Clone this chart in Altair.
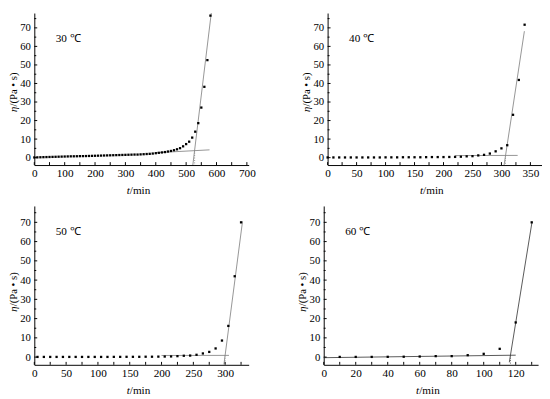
import altair as alt
import pandas as pd

FONT = "Liberation Serif, Times New Roman, Times, serif"
W = 220
H_TOP = 156
H_BOT = 163

# ---- 30 ℃ ----
t30 = [0, 10, 20, 30, 40, 50, 60, 70, 80, 90, 100, 110, 120, 130, 140, 150, 160, 170, 180, 190,
       200, 210, 220, 230, 240, 250, 260, 270, 280, 290, 300, 310, 320, 330, 340, 350, 360, 370, 380, 390,
       400, 410, 420, 430, 440, 450, 460, 470, 480, 490, 500, 510, 520, 530, 540, 550, 560, 570, 580]
v30 = [0.1, 0.15, 0.2, 0.25, 0.3, 0.35, 0.4, 0.45, 0.5, 0.55, 0.6, 0.65, 0.7, 0.72, 0.75, 0.8, 0.82, 0.85, 0.9, 0.95,
       1.0, 1.05, 1.1, 1.15, 1.2, 1.25, 1.3, 1.35, 1.4, 1.45, 1.5, 1.55, 1.6, 1.65, 1.65, 1.75, 1.85, 1.95, 2.05, 2.2,
       2.4, 2.6, 2.8, 3.0, 3.3, 3.6, 4.0, 4.5, 5.1, 6.1, 7.3, 8.6, 10.8, 14.0, 18.6, 27.0, 38.2, 52.6, 76.6]
steep30_t = [522, 583.5]
steep30_v = [-4, 79]
flat30_t = [400, 577]
flat30_v = [2.65, 4.2]
drop30_t = [528]
drop30_v = [4.0]

# ---- 40 ℃ ----
t40 = [0, 10, 20, 30, 40, 50, 60, 70, 80, 90, 100, 110, 120, 130, 140, 150, 160, 170, 180, 190,
       200, 210, 220, 230, 240, 250, 260, 270, 280, 290, 300, 310, 320, 330, 340]
v40 = [0.1, 0.1, 0.1, 0.1, 0.1, 0.1, 0.1, 0.1, 0.1, 0.1, 0.15, 0.15, 0.15, 0.2, 0.2, 0.2, 0.2, 0.25, 0.3, 0.3,
       0.3, 0.35, 0.4, 0.5, 0.7, 0.8, 1.2, 1.5, 2.2, 3.4, 5.0, 6.7, 23.1, 41.9, 71.7]
steep40_t = [304.6, 339.6]
steep40_v = [-4, 68.2]
flat40_t = [220, 328]
flat40_v = [1.1, 1.2]
drop40_t = [307]
drop40_v = [1.2]

# ---- 50 ℃ ----
t50 = [5, 15, 25, 35, 45, 55, 65, 75, 85, 95, 105, 115, 125, 135, 145, 155, 165, 175, 185, 195,
       205, 215, 225, 235, 245, 255, 265, 275, 285, 295, 305, 315, 325]
v50 = [0.1, 0.1, 0.1, 0.1, 0.1, 0.1, 0.1, 0.1, 0.1, 0.1, 0.1, 0.1, 0.12, 0.12, 0.15, 0.15, 0.15, 0.2, 0.2, 0.25,
       0.3, 0.35, 0.5, 0.7, 0.8, 1.2, 1.9, 2.7, 4.5, 8.6, 16.2, 42.0, 70.0]
steep50_t = [298, 327.3]
steep50_v = [-4, 70.5]
flat50_t = [200, 306]
flat50_v = [0.85, 0.9]
drop50_t = [299.8]
drop50_v = [0.9]

# ---- 60 ℃ ----
t60 = [10, 20, 30, 40, 50, 60, 70, 80, 90, 100, 110, 120, 130]
v60 = [0.1, 0.1, 0.1, 0.15, 0.2, 0.3, 0.5, 0.5, 1.0, 1.7, 4.3, 18.0, 70.0]
steep60_t = [116, 130.2]
steep60_v = [-2.7, 70.2]
flat60_t = [0, 120]
flat60_v = [-0.3, 1.0]
drop60_t = [116.7]
drop60_v = [0.95]

# ---- axes ----
y_labels = [0, 10, 20, 30, 40, 50, 60, 70]
y_minor = [5, 15, 25, 35, 45, 55, 65, 75]
x30_labels = [0, 100, 200, 300, 400, 500, 600, 700]
x30_minor = [50, 150, 250, 350, 450, 550, 650]
x40_labels = [0, 50, 100, 150, 200, 250, 300, 350]
x40_minor = [25, 75, 125, 175, 225, 275, 325]
x50_labels = [0, 50, 100, 150, 200, 250, 300]
x50_minor = [25, 75, 125, 175, 225, 275, 325]
x60_labels = [0, 20, 40, 60, 80, 100, 120]
x60_minor = [10, 30, 50, 70, 90, 110, 130]

one = pd.DataFrame({"a": [1]})


def text_layer(text, x, y, size=11.5, **kw):
    return alt.Chart(one).mark_text(text=text, font=FONT, fontSize=size, color="black", **kw).encode(
        x=alt.value(x), y=alt.value(y))


def panel(t, v, st, sv, ft, fv, dt, dv, xdom, xlab, xminor, ydom, H, label, lc):
    xenc = alt.X("t:Q", scale=alt.Scale(domain=xdom, nice=False, zero=False),
                 axis=alt.Axis(values=xlab, ticks=False, grid=False, title="", labelFont=FONT,
                               labelFontSize=11.5, labelColor="black", domainColor="black",
                               domainWidth=1, labelPadding=3, labelFlush=False, labelOverlap=False))
    yenc = alt.Y("v:Q", scale=alt.Scale(domain=ydom, nice=False, zero=False),
                 axis=alt.Axis(values=y_labels, ticks=False, grid=False, title="", labelFont=FONT,
                               labelFontSize=11, labelColor="black", domainColor="black",
                               domainWidth=1, labelPadding=4, labelFlush=False, labelOverlap=False))
    pts = alt.Chart(pd.DataFrame({"t": t, "v": v})).mark_square(size=5.5, color="black", opacity=1).encode(x=xenc, y=yenc)
    steep = alt.Chart(pd.DataFrame({"t": st, "v": sv})).mark_line(color=lc, strokeWidth=0.9, clip=True).encode(x=xenc, y=yenc)
    flat = alt.Chart(pd.DataFrame({"t": ft, "v": fv})).mark_line(color=lc, strokeWidth=0.9).encode(x=xenc, y=yenc)
    drop = alt.Chart(pd.DataFrame({"t": dt, "v": dv, "v2": [ydom[0]]})).mark_rule(
        color=lc, strokeWidth=0.9, strokeDash=[1, 1.5]).encode(x=xenc, y=yenc, y2="v2:Q")
    xt_major = alt.Chart(pd.DataFrame({"t": xlab})).mark_rule(color="black", strokeWidth=1).encode(
        x=xenc, y=alt.value(H), y2=alt.value(H - 3))
    xt_minor = alt.Chart(pd.DataFrame({"t": xminor})).mark_rule(color="black", strokeWidth=1).encode(
        x=xenc, y=alt.value(H), y2=alt.value(H - 3))
    yt_major = alt.Chart(pd.DataFrame({"v": y_labels})).mark_rule(color="black", strokeWidth=1).encode(
        y=yenc, x=alt.value(0), x2=alt.value(3))
    yt_minor = alt.Chart(pd.DataFrame({"v": y_minor})).mark_rule(color="black", strokeWidth=1).encode(
        y=yenc, x=alt.value(0), x2=alt.value(2))
    lab = text_layer(label, 22, 27, align="left", baseline="middle")
    xt1 = text_layer("t", 98, H + 27, align="right", baseline="middle", fontStyle="italic")
    xt2 = text_layer("/min", 98, H + 27, align="left", baseline="middle")
    ysplit = H - 60
    yt1 = text_layer("η", -21, ysplit, size=11, align="right", baseline="middle", angle=270, fontStyle="italic")
    yt2 = text_layer("/(Pa • s)", -21, ysplit, size=11, align="left", baseline="middle", angle=270)
    return alt.layer(flat, steep, drop, xt_major, xt_minor, yt_major, yt_minor, pts,
                     lab, xt1, xt2, yt1, yt2).properties(width=W, height=H)


p1 = panel(t30, v30, steep30_t, steep30_v, flat30_t, flat30_v, drop30_t, drop30_v,
           [0, 706], x30_labels, x30_minor, [-4, 78], H_TOP, "30 ℃", "#888888")
p2 = panel(t40, v40, steep40_t, steep40_v, flat40_t, flat40_v, drop40_t, drop40_v,
           [0, 370], x40_labels, x40_minor, [-4, 78], H_TOP, "40 ℃", "#888888")
p3 = panel(t50, v50, steep50_t, steep50_v, flat50_t, flat50_v, drop50_t, drop50_v,
           [0, 337], x50_labels, x50_minor, [-4, 78.5], H_BOT, "50 ℃", "#888888")
p4 = panel(t60, v60, steep60_t, steep60_v, flat60_t, flat60_v, drop60_t, drop60_v,
           [0, 134], x60_labels, x60_minor, [-4, 78.5], H_BOT, "60 ℃", "#444444")

chart = alt.vconcat(
    alt.hconcat(p1, p2, spacing=47),
    alt.hconcat(p3, p4, spacing=50),
    spacing=9,
).properties(padding={"left": 0, "top": 0, "right": 0, "bottom": 0}).configure_view(strokeWidth=0)

chart.save("out.html", embed_options={"renderer": "svg", "actions": False})
